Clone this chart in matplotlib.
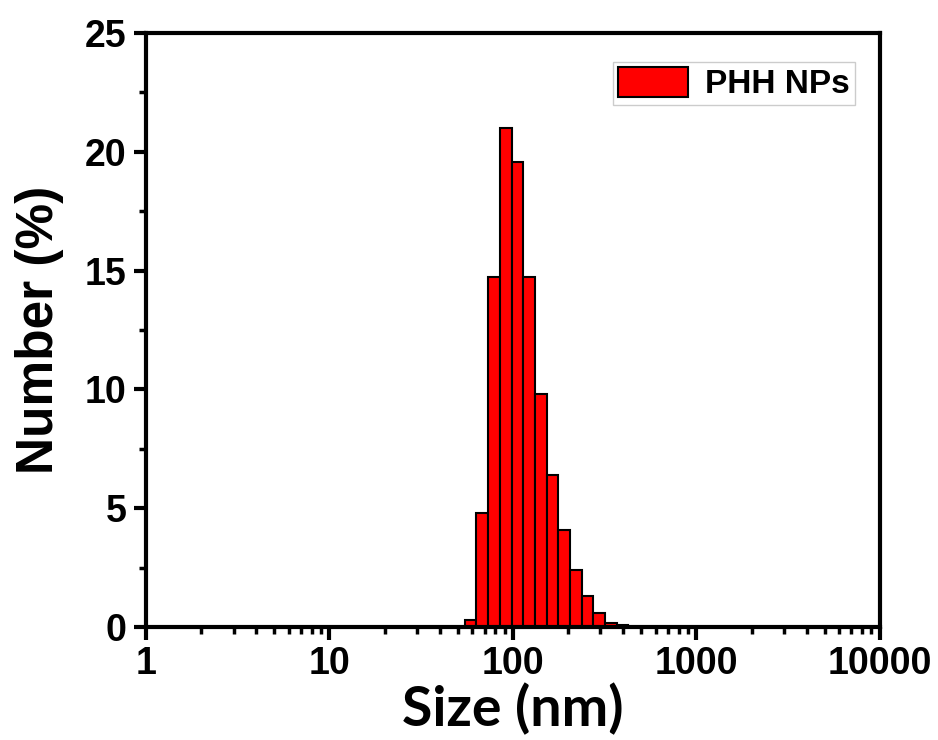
import numpy as np
import matplotlib

matplotlib.use('Agg')
import matplotlib.pyplot as plt
from matplotlib.ticker import LogLocator, FixedLocator, NullFormatter

# ===== 数据：粒径分布 (Malvern 分级) =====
sizes = [58.77, 68.06, 78.82, 91.28, 105.7, 122.4, 141.8, 164.2, 190.1, 220.2, 255.0, 295.3, 342.0, 396.1]
number_pct = [0.31, 4.78, 14.74, 21.0, 19.59, 14.74, 9.80, 6.38, 4.09, 2.38, 1.31, 0.57, 0.17, 0.10]
bin_ratio = 1.158  # 相邻分级的比值

x_ticks = [1, 10, 100, 1000, 10000]
x_ticklabels = ['1', '10', '100', '1000', '10000']
y_ticks = [0, 5, 10, 15, 20, 25]

tick_font = 'Liberation Sans'

fig = plt.figure(figsize=(9.38, 7.40), dpi=100)
ax = fig.add_axes([0.1557, 0.1527, 0.7823, 0.8027])

sizes = np.array(sizes)
left = sizes / np.sqrt(bin_ratio)
right = sizes * np.sqrt(bin_ratio)
ax.bar(left, number_pct, width=right - left, align='edge',
       color='#FF0000', edgecolor='black', linewidth=1.5, label='PHH NPs')

ax.set_xscale('log')
ax.set_xlim(1, 10000)
ax.set_ylim(0, 25)

ax.set_xticks(x_ticks)
ax.set_xticklabels(x_ticklabels)
ax.xaxis.set_minor_locator(LogLocator(base=10, subs=np.arange(2, 10)))
ax.xaxis.set_minor_formatter(NullFormatter())
ax.set_yticks(y_ticks)
ax.yaxis.set_minor_locator(FixedLocator(np.arange(2.5, 25, 5)))

for sp in ax.spines.values():
    sp.set_linewidth(3)

ax.tick_params(which='major', direction='out', length=9, width=3,
               labelsize=27, pad=5)
ax.tick_params(which='minor', direction='out', length=5, width=2.5)
for lab in ax.get_xticklabels() + ax.get_yticklabels():
    lab.set_fontfamily(tick_font)
    lab.set_fontweight('bold')

ax.set_xlabel('Size (nm)', fontsize=40, fontweight='bold', family='Lato', labelpad=0)
ax.set_ylabel('Number (%)', fontsize=37, fontweight='bold', family=tick_font, labelpad=15)

leg = ax.legend(loc='upper right', bbox_to_anchor=(0.966, 0.951), fancybox=False,
                framealpha=1, edgecolor='#cccccc', handlelength=2.1, handleheight=1.0,
                handletextpad=0.5, borderpad=0.15, borderaxespad=0,
                prop={'family': tick_font, 'weight': 'bold', 'size': 24})
leg.get_frame().set_linewidth(1.0)

plt.savefig('out.png', dpi=100)
